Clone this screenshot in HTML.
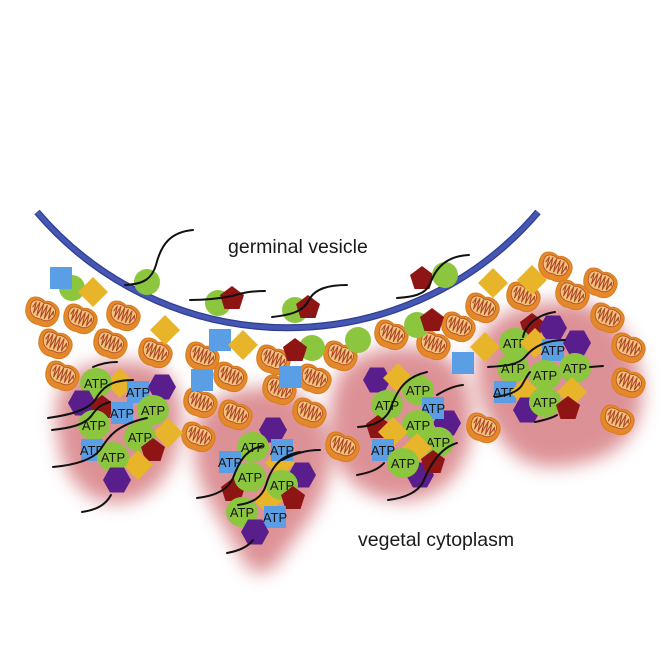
<!DOCTYPE html>
<html><head><meta charset="utf-8"><style>
html,body{margin:0;padding:0;background:#fff;}
svg{display:block;}
text{font-family:"Liberation Sans",Arial,sans-serif;}
.a{font-size:13px;fill:#151515;text-anchor:middle;}
.c{fill:none;stroke:#111;stroke-width:2;stroke-linecap:round;}
</style></head><body>
<svg width="664" height="664" viewBox="0 0 664 664" xmlns="http://www.w3.org/2000/svg">
<defs>
<filter id="bl" x="-30%" y="-30%" width="160%" height="160%"><feGaussianBlur stdDeviation="9"/></filter>
<polygon id="hex" points="-14,0 -7,-12.5 7,-12.5 14,0 7,12.5 -7,12.5" fill="#591d8c"/>
<polygon id="pent" points="0,-12 12,-3 7.5,11 -7.5,11 -12,-3" fill="#8f1515"/>
<polygon id="dia" points="0,-15 15,0 0,15 -15,0" fill="#e8b42a"/>
<rect id="sq" x="-11" y="-11" width="22" height="22" fill="#5a9fe6"/>
<ellipse id="gc" rx="16" ry="15" fill="#8cc63f"/>
<circle id="sg" r="13" fill="#8cc63f"/>
<g id="mi">
<path d="M-17,-3 C-17,-12 -8,-14 -1,-11 C5,-15 17,-12 17,-1 C17,10 9,14 1,13 C-6,15 -17,11 -17,-3Z" fill="#e4882a" stroke="#d77d1f" stroke-width="1"/>
<path d="M-13,-3.5 C-13,-9.5 -7,-11 -1,-9 C4,-11.5 13,-9.5 13,-2.5 C13,5 7,8 1,7 C-5,9 -13,6 -13,-3.5Z" fill="#f3c37c" stroke="#b5552a" stroke-width="0.9"/>
<polyline points="-10.5,-1 -9,-7 -7.5,4 -5.5,-8 -3.5,5 -1.5,-8 0.5,5 2.5,-8 4.5,5 6.5,-8 8.5,4 10.5,-5 11.5,-1" fill="none" stroke="#ad4528" stroke-width="1.1" stroke-linejoin="round"/>
</g>
</defs>

<!-- pink blobs -->
<g filter="url(#bl)" fill="#d9868b" opacity="0.9">
<path d="M62,385 C75,362 120,356 155,366 C182,378 186,420 176,452 C166,485 140,505 112,503 C80,500 62,470 58,440 C55,418 55,400 62,385Z"/>
<path d="M195,430 C200,400 235,385 275,388 C310,392 330,420 330,460 C330,500 300,530 280,560 C268,578 250,578 240,555 C225,525 200,495 195,460Z"/>
<path d="M335,385 C345,355 380,345 420,348 C455,352 472,380 472,420 C472,460 450,495 412,500 C370,504 340,480 333,450 C328,425 330,400 335,385Z"/>
<path d="M478,345 C490,312 530,300 575,302 C615,308 640,345 642,390 C643,430 620,455 585,462 C555,470 530,470 510,450 C490,430 472,395 478,345Z"/>
</g>

<!-- membrane -->
<path d="M37,212 A329,329 0 0 0 538,212" fill="none" stroke="#2f3e90" stroke-width="7"/>
<path d="M37,212 A329,329 0 0 0 538,212" fill="none" stroke="#4656b3" stroke-width="4.5"/>

<!-- mitochondria -->
<g>
<use href="#mi" transform="translate(42,312) rotate(22)"/>
<use href="#mi" transform="translate(80,319) rotate(22)"/>
<use href="#mi" transform="translate(123,316) rotate(22)"/>
<use href="#mi" transform="translate(55,344) rotate(22)"/>
<use href="#mi" transform="translate(110,344) rotate(22)"/>
<use href="#mi" transform="translate(155,353) rotate(22)"/>
<use href="#mi" transform="translate(62,376) rotate(22)"/>
<use href="#mi" transform="translate(202,357) rotate(22)"/>
<use href="#mi" transform="translate(230,377) rotate(22)"/>
<use href="#mi" transform="translate(200,403) rotate(22)"/>
<use href="#mi" transform="translate(198,437) rotate(22)"/>
<use href="#mi" transform="translate(235,415) rotate(22)"/>
<use href="#mi" transform="translate(273,360) rotate(22)"/>
<use href="#mi" transform="translate(279,390) rotate(22)"/>
<use href="#mi" transform="translate(314,379) rotate(22)"/>
<use href="#mi" transform="translate(309,413) rotate(22)"/>
<use href="#mi" transform="translate(340,356) rotate(22)"/>
<use href="#mi" transform="translate(342,447) rotate(22)"/>
<use href="#mi" transform="translate(391,335) rotate(22)"/>
<use href="#mi" transform="translate(433,345) rotate(22)"/>
<use href="#mi" transform="translate(458,327) rotate(22)"/>
<use href="#mi" transform="translate(482,308) rotate(22)"/>
<use href="#mi" transform="translate(483,428) rotate(22)"/>
<use href="#mi" transform="translate(523,297) rotate(22)"/>
<use href="#mi" transform="translate(555,267) rotate(22)"/>
<use href="#mi" transform="translate(600,283) rotate(22)"/>
<use href="#mi" transform="translate(572,295) rotate(22)"/>
<use href="#mi" transform="translate(607,318) rotate(22)"/>
<use href="#mi" transform="translate(628,348) rotate(22)"/>
<use href="#mi" transform="translate(628,383) rotate(22)"/>
<use href="#mi" transform="translate(617,420) rotate(22)"/>
</g>

<!-- loose elements -->
<use href="#sg" x="72" y="288"/>
<use href="#sq" x="61" y="278"/>
<use href="#dia" x="93" y="292"/>
<use href="#sg" x="147" y="282"/>
<use href="#dia" x="165" y="330"/>
<use href="#sg" x="218" y="303"/>
<use href="#pent" x="232" y="298"/>
<use href="#sg" x="295" y="310"/>
<use href="#pent" x="308" y="307"/>
<use href="#pent" x="422" y="278"/>
<use href="#sg" x="445" y="275"/>
<use href="#sq" x="220" y="340"/>
<use href="#dia" x="243" y="345"/>
<use href="#sg" x="312" y="348"/>
<use href="#pent" x="295" y="350"/>
<use href="#sg" x="358" y="340"/>
<use href="#sg" x="417" y="325"/>
<use href="#pent" x="432" y="320"/>
<use href="#sq" x="202" y="380"/>
<use href="#sq" x="290" y="377"/>
<use href="#sq" x="463" y="363"/>
<use href="#dia" x="493" y="283"/>
<use href="#dia" x="532" y="280"/>
<use href="#dia" x="485" y="347"/>

<!-- cluster 1 -->
<use href="#dia" x="120" y="383"/>
<use href="#gc" x="96" y="383"/><text class="a" x="96" y="388">ATP</text>
<use href="#sq" x="138" y="392"/><text class="a" x="138" y="397">ATP</text>
<use href="#hex" x="162" y="387"/>
<use href="#hex" x="82" y="403"/>
<use href="#pent" x="102" y="407"/>
<use href="#sq" x="122" y="413"/><text class="a" x="122" y="418">ATP</text>
<use href="#gc" x="153" y="410"/><text class="a" x="153" y="415">ATP</text>
<use href="#dia" x="168" y="433"/>
<use href="#gc" x="94" y="425"/><text class="a" x="94" y="430">ATP</text>
<use href="#gc" x="140" y="437"/><text class="a" x="140" y="442">ATP</text>
<use href="#sq" x="92" y="450"/><text class="a" x="92" y="455">ATP</text>
<use href="#pent" x="153" y="450"/>
<use href="#dia" x="138" y="465"/>
<use href="#gc" x="113" y="457"/><text class="a" x="113" y="462">ATP</text>
<use href="#hex" x="117" y="480"/>

<!-- cluster 2 -->
<use href="#hex" x="273" y="430"/>
<use href="#dia" x="280" y="463"/>
<use href="#dia" x="268" y="500"/>
<use href="#gc" x="253" y="447"/><text class="a" x="253" y="452">ATP</text>
<use href="#sq" x="282" y="450"/><text class="a" x="282" y="455">ATP</text>
<use href="#sq" x="230" y="462"/><text class="a" x="230" y="467">ATP</text>
<use href="#pent" x="233" y="490"/>
<use href="#gc" x="250" y="477"/><text class="a" x="250" y="482">ATP</text>
<use href="#hex" x="302" y="475"/>
<use href="#gc" x="282" y="485"/><text class="a" x="282" y="490">ATP</text>
<use href="#pent" x="293" y="498"/>
<use href="#gc" x="242" y="512"/><text class="a" x="242" y="517">ATP</text>
<use href="#sq" x="275" y="517"/><text class="a" x="275" y="522">ATP</text>
<use href="#hex" x="255" y="532"/>

<!-- cluster 3 -->
<use href="#hex" x="377" y="380"/>
<use href="#dia" x="398" y="378"/>
<use href="#gc" x="418" y="390"/><text class="a" x="418" y="395">ATP</text>
<use href="#gc" x="387" y="405"/><text class="a" x="387" y="410">ATP</text>
<use href="#hex" x="447" y="423"/>
<use href="#sq" x="433" y="408"/><text class="a" x="433" y="413">ATP</text>
<use href="#pent" x="378" y="427"/>
<use href="#gc" x="418" y="425"/><text class="a" x="418" y="430">ATP</text>
<use href="#dia" x="393" y="432"/>
<use href="#sq" x="383" y="450"/><text class="a" x="383" y="455">ATP</text>
<use href="#hex" x="420" y="475"/>
<use href="#gc" x="438" y="442"/><text class="a" x="438" y="447">ATP</text>
<use href="#dia" x="417" y="448"/>
<use href="#gc" x="403" y="463"/><text class="a" x="403" y="468">ATP</text>
<use href="#pent" x="433" y="462"/>

<!-- cluster 4 -->
<use href="#pent" x="532" y="325"/>
<use href="#hex" x="553" y="328"/>
<use href="#gc" x="515" y="343"/><text class="a" x="515" y="348">ATP</text>
<use href="#dia" x="535" y="343"/>
<use href="#sq" x="553" y="350"/><text class="a" x="553" y="355">ATP</text>
<use href="#hex" x="577" y="343"/>
<use href="#gc" x="513" y="368"/><text class="a" x="513" y="373">ATP</text>
<use href="#gc" x="545" y="375"/><text class="a" x="545" y="380">ATP</text>
<use href="#gc" x="575" y="368"/><text class="a" x="575" y="373">ATP</text>
<use href="#sq" x="505" y="392"/><text class="a" x="505" y="397">ATP</text>
<use href="#dia" x="525" y="392"/>
<use href="#hex" x="527" y="410"/>
<use href="#gc" x="545" y="402"/><text class="a" x="545" y="407">ATP</text>
<use href="#dia" x="572" y="392"/>
<use href="#pent" x="568" y="408"/>

<!-- curves -->
<g class="c">
<path class="c" d="M125,285 C145,284 152,278 156,265 C161,245 170,232 193,230"/>
<path class="c" d="M190,300 C210,300 222,298 232,296 C242,293 250,291 265,291"/>
<path class="c" d="M272,317 C290,315 303,312 309,300 C315,288 330,285 347,285"/>
<path class="c" d="M397,298 C412,297 425,295 430,284 C437,264 450,256 469,255"/>

<path class="c" d="M93,367 C100,364 108,362 117,362"/>
<path class="c" d="M48,418 C70,415 88,410 95,400 C102,388 110,380 133,380"/>
<path class="c" d="M52,430 C70,428 85,425 92,415 C97,408 100,405 110,402"/>
<path class="c" d="M53,467 C75,465 92,460 100,450 C108,438 115,425 147,418"/>
<path class="c" d="M82,512 C95,510 105,506 111,495"/>

<path class="c" d="M197,498 C215,496 228,490 233,478 C239,462 245,450 262,446"/>
<path class="c" d="M238,505 C252,503 262,498 266,485 C272,465 282,455 300,452"/>
<path class="c" d="M282,460 C294,454 305,450 320,450"/>
<path class="c" d="M227,553 C238,551 248,547 253,540"/>

<path class="c" d="M358,427 C375,426 385,420 390,410 C397,390 405,377 427,372"/>
<path class="c" d="M437,395 C445,390 453,386 463,385"/>
<path class="c" d="M357,475 C368,473 378,470 384,463"/>
<path class="c" d="M388,500 C405,498 418,492 423,482 C430,465 440,448 457,443"/>

<path class="c" d="M523,337 C525,327 535,315 555,312"/>
<path class="c" d="M488,367 C505,366 518,365 525,357 C533,347 545,340 565,340"/>
<path class="c" d="M495,397 C508,395 518,392 522,385 C526,378 528,374 530,372"/>
<path class="c" d="M535,422 C545,420 552,418 557,415"/>
<path class="c" d="M590,367 L603,366"/>
</g>

<!-- labels -->
<text x="228" y="253" font-size="19.5" fill="#1a1a1a">germinal vesicle</text>
<text x="358" y="546" font-size="19.5" fill="#1a1a1a">vegetal cytoplasm</text>
</svg>
</body></html>
